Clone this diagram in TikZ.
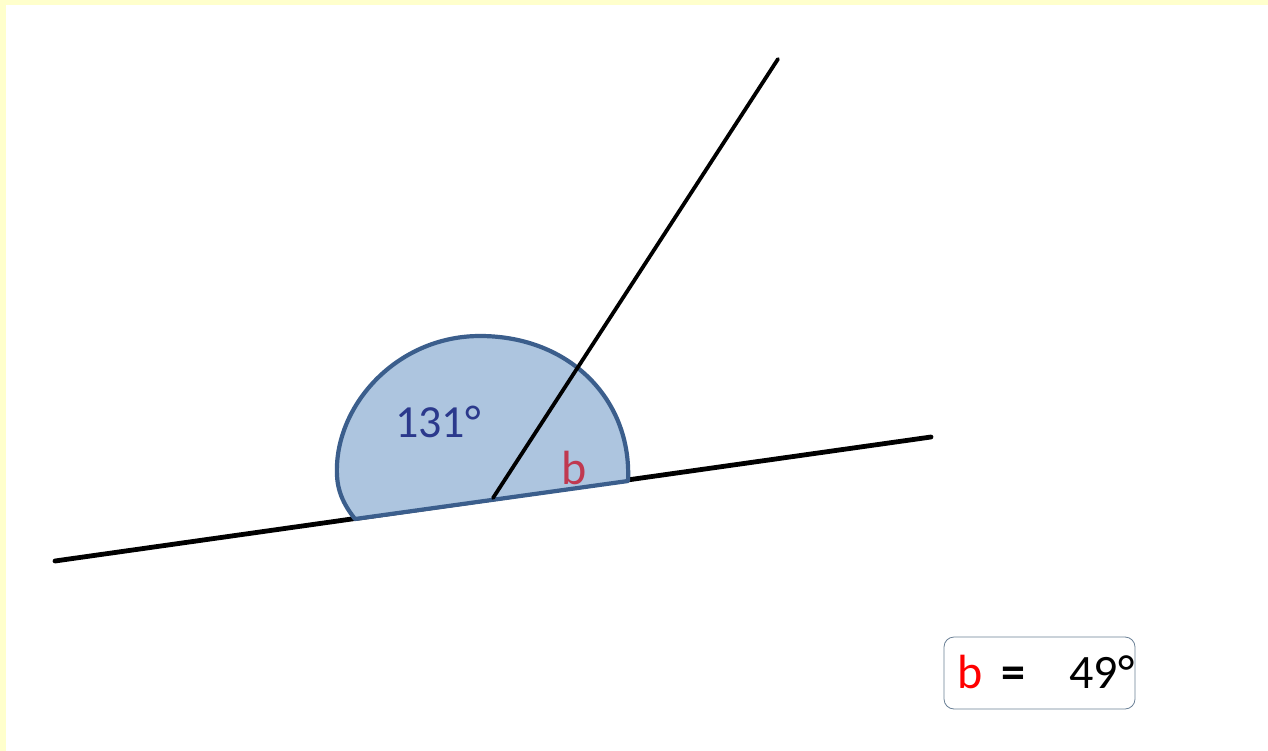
\documentclass[tikz,border=0pt]{standalone}
\usepackage{fontspec}
\setmainfont{Carlito}
\usepackage{tikz}
\usetikzlibrary{positioning}
\definecolor{paper}{RGB}{255,255,204}
\definecolor{sectorFill}{RGB}{173,197,223}
\definecolor{sectorLine}{RGB}{59,94,140}
\definecolor{knownAng}{RGB}{43,57,140}
\definecolor{unknownAng}{RGB}{192,57,80}
\definecolor{boxLine}{RGB}{106,128,150}

\begin{document}
\begin{tikzpicture}[x=1pt,y=-1pt,
    bigtxt/.style={font=\fontsize{48}{54}\selectfont,inner sep=0pt,anchor=base},
    answerbox/.style={draw=boxLine,line width=0.8pt,rounded corners=10pt,
      minimum width=191pt,minimum height=72pt,inner sep=0pt}]
  % page: pale yellow frame on top and left
  \fill[paper] (0,0) rectangle (1268,751);
  \fill[white] (6,5) rectangle (1268,751);
  \useasboundingbox (0,0) rectangle (1268,751);
  % the two lines
  \coordinate (lineL) at (55,561);
  \coordinate (lineR) at (931,437);
  \coordinate (vertex) at (493,498);
  \coordinate (rayEnd) at (778,59);
  \draw[black,line width=4.8pt,line cap=round] (lineL) -- (lineR);
  % protractor-like sector on the line
  \draw[sectorLine,fill=sectorFill,line width=4.2pt,line join=round]
    (355,519) .. controls (340,500) and (336,485) .. (337,465)
    .. controls (340,400) and (400,336) .. (480,336)
    .. controls (570,336) and (632,400) .. (628,481) -- cycle;
  \draw[black,line width=3.8pt,line cap=round] (vertex) -- (rayEnd);
  % angle labels
  \node[bigtxt,text=knownAng,font=\fontsize{46}{52}\selectfont] (obtuse) at (438,437) {131°};
  \node[bigtxt,text=unknownAng] (acute) at (574,484) {b};
  % answer box
  \node[answerbox] (answer) at (1039.5,673) {};
  \node[bigtxt,text=red] (ansB) at (970,688) {b};
  \node[bigtxt,text=black,font=\fontsize{48}{54}\selectfont\bfseries] (ansEq) at (1013,688) {=};
  \node[bigtxt,text=black] (ansVal) at (1102,688) {49°};
\end{tikzpicture}
\end{document}
